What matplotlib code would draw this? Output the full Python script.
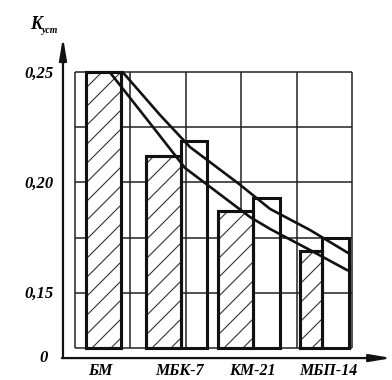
import matplotlib
matplotlib.use("Agg")
import matplotlib.pyplot as plt
import numpy as np

# ---- data ----
categories = ["БМ", "МБК-7", "КМ-21", "МБП-14"]
hatched_vals = [0.250, 0.212, 0.187, 0.169]
plain_vals = [None, 0.219, 0.193, 0.175]
ytick_vals = [0.25, 0.20, 0.15]
ytick_labels = ["0,25", "0,20", "0,15"]

# curves (x in grid-column units, y in K_уст)
upper_x = [0.866, 1.534, 2.076, 2.978, 3.520, 4.242, 4.928]
upper_y = [0.2500, 0.2307, 0.2161, 0.1990, 0.1880, 0.1784, 0.1680]
lower_x = [0.632, 1.408, 1.986, 3.159, 3.520, 4.242, 4.910]
lower_y = [0.2500, 0.2252, 0.2066, 0.1843, 0.1789, 0.1693, 0.1602]

# ---- layout (positions / widths in grid-column units) ----
hatched_left = [0.199, 1.282, 2.581, 4.061]
hatched_w = [0.631, 0.631, 0.632, 0.397]
plain_left = [None, 1.913, 3.213, 4.458]
plain_w = [None, 0.470, 0.487, 0.488]
label_x = [0.45, 1.895, 3.21, 4.57]
base = 0.125

fig = plt.figure(figsize=(3.92, 3.80), dpi=100)
ax = fig.add_axes([0, 0, 1, 1])
ax.set_xlim(-1.354, 5.722)
ax.set_ylim(0.11023, 0.28295)
ax.axis('off')

# pixel scale factors (for hatch geometry)
px_x = 392 / (5.722 + 1.354)
px_y = 380 / (0.28295 - 0.11023)
k = px_x / px_y          # data-y per data-x for a 45-degree line
step = 19.0 / px_y       # vertical hatch spacing (~19 px)

font = dict(family="Liberation Serif", weight="bold", style="italic")

# grid
gy = [0.125, 0.15, 0.175, 0.20, 0.225, 0.25]
ax.hlines(gy, 0, 5, color='#222', lw=1.1, zorder=1)
ax.vlines(range(6), 0.125, 0.25, color='#222', lw=1.1, zorder=1)

# bars
for i in range(len(categories)):
    if plain_vals[i] is not None:
        ax.bar(plain_left[i], plain_vals[i] - base, width=plain_w[i], bottom=base,
               align='edge', facecolor='none', edgecolor='#111', lw=2.2, zorder=3)
    bars = ax.bar(hatched_left[i], hatched_vals[i] - base, width=hatched_w[i], bottom=base,
                  align='edge', facecolor='white', edgecolor='#111', lw=2.2, zorder=3)
    patch = bars.patches[0]
    x0 = hatched_left[i]
    x1 = x0 + hatched_w[i]
    y1 = hatched_vals[i]
    c = base - (x1 - x0) * k + step * 0.5
    while c < y1:
        ln, = ax.plot([x0, x1], [c, c + (x1 - x0) * k], color='#333', lw=0.8,
                      zorder=3.5)
        ln.set_clip_path(patch)
        c += step
    # redraw outline on top of hatch
    ax.bar(x0, y1 - base, width=hatched_w[i], bottom=base, align='edge',
           facecolor='none', edgecolor='#111', lw=2.2, zorder=3.6)

# curves
ax.plot(upper_x, upper_y, color='#111', lw=1.9, zorder=4, solid_joinstyle='round')
ax.plot(lower_x, lower_y, color='#111', lw=1.9, zorder=4, solid_joinstyle='round')

# axes arrows
ax_x0 = -0.217
ax_y0 = 0.1202
ax.annotate('', xy=(ax_x0, 0.2660), xytext=(ax_x0, ax_y0),
            arrowprops=dict(arrowstyle='-|>,head_length=1.3,head_width=0.22',
                            lw=1.6, color='#111', shrinkA=0, shrinkB=0), zorder=5)
ax.annotate('', xy=(5.72, ax_y0), xytext=(ax_x0 - 0.02, ax_y0),
            arrowprops=dict(arrowstyle='-|>,head_length=1.3,head_width=0.22',
                            lw=1.6, color='#111', shrinkA=0, shrinkB=0), zorder=5)

# tick labels
for v, t in zip(ytick_vals, ytick_labels):
    ax.text(-0.38, v - 0.0008, t, ha='right', va='center', fontsize=12, **font)
ax.text(-0.50, ax_y0, "0", ha='right', va='center', fontsize=12, **font)

for x, c in zip(label_x, categories):
    ax.text(x, 0.1142, c, ha='center', va='center', fontsize=11.5, **font)

# y label
ax.text(-0.60, 0.2718, "K", ha='right', va='center', fontsize=13, **font)
ax.text(-0.60, 0.2690, "уст", ha='left', va='center', fontsize=7,
        family="Liberation Serif", style="italic", weight="bold")

fig.savefig("out.png", dpi=100)
